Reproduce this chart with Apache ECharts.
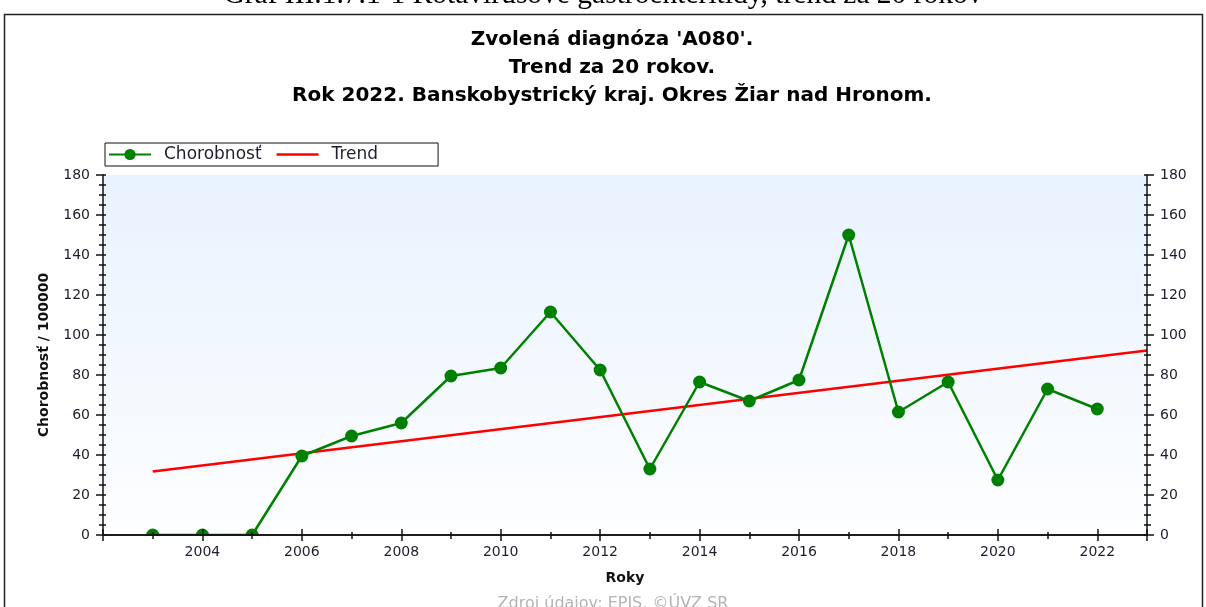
<!DOCTYPE html>
<html>
<head>
<meta charset="utf-8">
<script src="https://cdn.jsdelivr.net/npm/echarts@6/dist/echarts.min.js"></script>
<style>
  html, body { margin: 0; padding: 0; background: #fff; }
  #chart { width: 1206px; height: 607px; }
</style>
</head>
<body>
<div id="chart"></div>
<script>
const years = [2003, 2004, 2005, 2006, 2007, 2008, 2009, 2010, 2011, 2012,
               2013, 2014, 2015, 2016, 2017, 2018, 2019, 2020, 2021, 2022];
const morbidity = [0, 0, 0, 39.5, 49.5, 56, 79.5, 83.5, 111.5, 82.5,
                   33, 76.5, 67, 77.5, 150, 61.5, 76.5, 27.5, 73, 63];
const trendYears = [2003, 2023];
const trendValues = [31.8, 92.2];

const captionText = 'Graf III.1.7.1-1 Rotavírusové gastroenteritídy, trend za 20 rokov';
const titleLines = [
    'Zvolená diagnóza \'A080\'.',
    'Trend za 20 rokov.',
    'Rok 2022. Banskobystrický kraj. Okres Žiar nad Hronom.',
];
const sourceText = 'Zdroj údajov: EPIS, ©ÚVZ SR';

const FONT = '"DejaVu Sans", Verdana, sans-serif';
const TEXT = '#1e1e2e';

const chart = echarts.init(document.getElementById('chart'), null, { renderer: 'canvas' });

// axes live on a layer above the series so the white strip under the
// x axis can cut the markers sitting at zero in half, like the original
const xBase = {
    type: 'value',
    min: 2002,
    max: 2023,
    interval: 2,
    gridIndex: 0,
    zlevel: 1,
    z: 10,
    splitLine: { show: false },
};
const yBase = {
    type: 'value',
    min: 0,
    max: 180,
    interval: 20,
    zlevel: 1,
    z: 10,
    splitLine: { show: false },
};
const axisLine = { show: true, lineStyle: { color: '#111', width: 1.5 } };
const tickStyle = { color: '#111', width: 1.5 };

const option = {
    backgroundColor: '#fff',
    animation: false,
    grid: {
        left: 103,
        right: 59,
        top: 175,
        bottom: 72,
        show: true,
        borderWidth: 0,
        backgroundColor: {
            type: 'linear', x: 0, y: 0, x2: 0, y2: 1,
            colorStops: [
                { offset: 0, color: '#e8f2fe' },
                { offset: 1, color: '#fdfeff' },
            ],
        },
    },
    legend: {
        left: 105,
        top: 143,
        orient: 'horizontal',
        backgroundColor: '#fff',
        borderColor: '#111',
        borderWidth: 1,
        borderRadius: 0,
        padding: [3, 60, 3, 3],
        itemWidth: 42,
        itemHeight: 14,
        itemGap: 15,
        textStyle: { fontFamily: FONT, fontSize: 17, color: TEXT, padding: [0, 0, 0, 8] },
        data: [
            { name: 'Chorobnosť' },
            { name: 'Trend', icon: 'path://M0,0 L42,0 L42,2.5 L0,2.5 Z' },
        ],
    },
    xAxis: [
        {
            ...xBase,
            position: 'bottom',
            name: 'Roky',
            nameLocation: 'middle',
            nameGap: 36,
            nameTextStyle: { fontFamily: FONT, fontSize: 14, fontWeight: 'bold', color: '#111' },
            axisLine,
            axisTick: { show: true, inside: false, length: 6, lineStyle: tickStyle },
            minorTick: { show: true, splitNumber: 2, length: 3, lineStyle: tickStyle },
            axisLabel: {
                margin: 10,
                fontFamily: FONT,
                fontSize: 14,
                color: TEXT,
                formatter: (v) => (v === 2002 || v === 2023 ? '' : String(v)),
            },
        },
        {
            ...xBase,
            position: 'bottom',
            axisLine: { show: false },
            axisTick: { show: true, inside: true, length: 6, lineStyle: tickStyle },
            minorTick: { show: true, splitNumber: 2, length: 3, lineStyle: tickStyle },
            axisLabel: { show: false },
        },
        {
            ...xBase,
            position: 'top',
            interval: 1,
            axisLine,
            axisTick: { show: true, inside: true, length: 4, lineStyle: tickStyle },
            axisLabel: { show: false },
        },
    ],
    yAxis: [
        {
            ...yBase,
            position: 'left',
            name: 'Chorobnosť / 100000',
            nameLocation: 'middle',
            nameGap: 52,
            nameTextStyle: { fontFamily: FONT, fontSize: 14, fontWeight: 'bold', color: '#111' },
            axisLine,
            axisTick: { show: true, inside: false, length: 7, lineStyle: tickStyle },
            minorTick: { show: true, splitNumber: 4, length: 4, lineStyle: tickStyle },
            axisLabel: { margin: 13, fontFamily: FONT, fontSize: 14, color: TEXT },
        },
        {
            ...yBase,
            position: 'left',
            axisLine: { show: false },
            axisTick: { show: true, inside: true, length: 3, lineStyle: tickStyle },
            minorTick: { show: true, splitNumber: 4, length: 3, lineStyle: tickStyle },
            axisLabel: { show: false },
        },
        {
            ...yBase,
            position: 'right',
            axisLine,
            axisTick: { show: true, inside: false, length: 7, lineStyle: tickStyle },
            minorTick: { show: true, splitNumber: 4, length: 4, lineStyle: tickStyle },
            axisLabel: { margin: 13, fontFamily: FONT, fontSize: 14, color: TEXT },
        },
        {
            ...yBase,
            position: 'right',
            axisLine: { show: false },
            axisTick: { show: true, inside: true, length: 3, lineStyle: tickStyle },
            minorTick: { show: true, splitNumber: 4, length: 3, lineStyle: tickStyle },
            axisLabel: { show: false },
        },
    ],
    graphic: [
        {
            type: 'text',
            left: 'center',
            top: -20,
            style: { text: captionText, font: '29.5px "Liberation Serif", "Times New Roman", serif', fill: '#000' },
        },
        {
            type: 'rect',
            shape: { x: 4.5, y: 14.5, width: 1198, height: 620 },
            style: { fill: 'none', stroke: '#222', lineWidth: 1.5 },
            silent: true,
        },
        {
            type: 'text',
            x: 612,
            y: 26,
            style: {
                text: titleLines.join('\n'),
                font: 'bold 20px ' + FONT,
                lineHeight: 28,
                textAlign: 'center',
                fill: '#000',
            },
        },
        {
            // white strip under the x axis
            type: 'rect',
            shape: { x: 96, y: 535.5, width: 1060, height: 14 },
            style: { fill: '#fff' },
            zlevel: 1,
            z: 0,
            silent: true,
        },
        {
            type: 'text',
            x: 613,
            y: 596,
            style: { text: sourceText, font: '16px ' + FONT, textAlign: 'center', fill: '#b4b4b4' },
        },
    ],
    series: [
        {
            name: 'Chorobnosť',
            type: 'line',
            xAxisIndex: 0,
            yAxisIndex: 0,
            data: years.map((y, i) => [y, morbidity[i]]),
            symbol: 'circle',
            symbolSize: 13,
            itemStyle: { color: '#008000' },
            lineStyle: { color: '#008000', width: 2.5 },
            z: 2,
        },
        {
            name: 'Trend',
            type: 'line',
            xAxisIndex: 0,
            yAxisIndex: 0,
            data: trendYears.map((y, i) => [y, trendValues[i]]),
            showSymbol: false,
            symbol: 'none',
            itemStyle: { color: '#ff0000' },
            lineStyle: { color: '#ff0000', width: 2.5 },
            z: 1,
        },
    ],
};

chart.setOption(option);
</script>
</body>
</html>
